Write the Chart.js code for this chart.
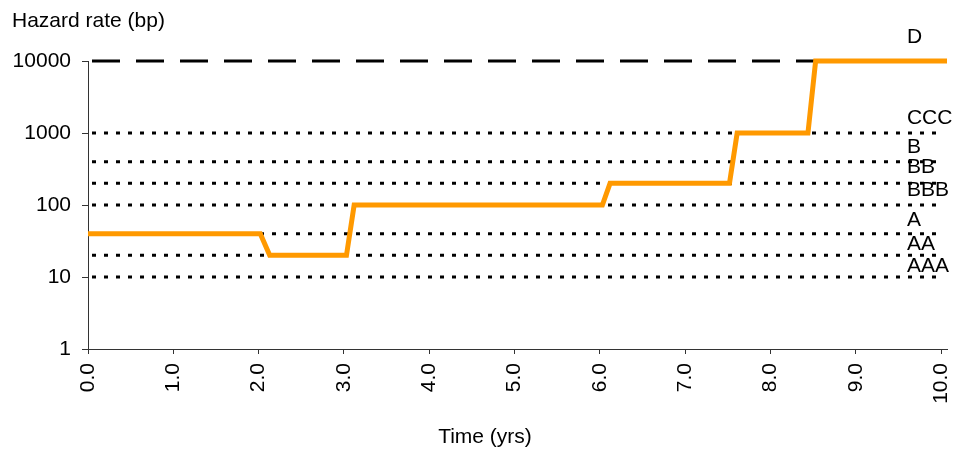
<!DOCTYPE html>
<html><head><meta charset="utf-8">
<script src="https://cdn.jsdelivr.net/npm/chart.js@4"></script>
<style>html,body{margin:0;padding:0;background:#fff;}#wrap{width:967px;height:455px;}</style>
</head><body><div id="wrap"><canvas id="c" width="967" height="455"></canvas></div>
<script>
// ---- data ----
const timeYears    = [0, 2.02, 2.13, 3.03, 3.12, 6.03, 6.12, 7.52, 7.61, 8.44, 8.53, 10.07];
const hazardRateBp = [40, 40, 20, 20, 100, 100, 200, 200, 1000, 1000, 10000, 10000];
const ratingLabels = ['D', 'CCC', 'B', 'BB', 'BBB', 'A', 'AA', 'AAA'];
const ratingLevels = [10000, 1000, 400, 200, 100, 40, 20, 10];
const ratingLineStart = 0;
const ratingLineEnd = 10.02;
const ratingLabelX = 9.6;
const xTickValues = [0, 1, 2, 3, 4, 5, 6, 7, 8, 9, 10];
const yTickValues = [1, 10, 100, 1000, 10000];
const yAxisTitle = 'Hazard rate (bp)';
const xAxisTitle = 'Time (yrs)';

// ---- styles ----
const FONT = "'Liberation Sans', Arial, sans-serif";
const FSIZE = 21;
const labelBaselineOffsets = [18, 9, 8.6, 10, 9, 8, 5, 5];

const datasets = [{
  label: 'Hazard rate',
  data: timeYears.map((t, i) => ({x: t, y: hazardRateBp[i]})),
  borderColor: '#FF9900',
  backgroundColor: '#FF9900',
  borderWidth: 5,
  pointRadius: 0,
  tension: 0,
  clip: 10,
  order: 0
}];
ratingLevels.forEach((lvl, i) => {
  const isDefault = ratingLabels[i] === 'D';
  datasets.push({
    label: ratingLabels[i],
    data: [{x: ratingLineStart, y: lvl}, {x: ratingLineEnd, y: lvl}],
    borderColor: '#000',
    borderWidth: 3,
    borderDash: isDefault ? [28, 16] : [4, 8],
    borderDashOffset: -4,
    borderCapStyle: 'butt',
    pointRadius: 0,
    clip: 10,
    order: 1
  });
});

const textPlugin = {
  id: 'textPlugin',
  afterDatasetsDraw(chart) {
    const ctx = chart.ctx;
    const xs = chart.scales.x, ys = chart.scales.y;
    ctx.save();
    ctx.fillStyle = '#000';
    ctx.font = FSIZE + 'px ' + FONT;
    ctx.textBaseline = 'alphabetic';
    ctx.textAlign = 'left';
    ratingLabels.forEach((lab, i) => {
      const x = xs.getPixelForValue(ratingLabelX);
      const y = ys.getPixelForValue(ratingLevels[i]) - labelBaselineOffsets[i];
      ctx.fillText(lab, x, y);
    });
    ctx.fillText(yAxisTitle, 12, 27);
    ctx.textAlign = 'center';
    ctx.fillText(xAxisTitle, 485, 443);
    ctx.restore();
  }
};

new Chart(document.getElementById('c'), {
  type: 'line',
  data: {datasets},
  plugins: [textPlugin],
  options: {
    responsive: false,
    devicePixelRatio: 1,
    animation: false,
    layout: {padding: {top: 61, right: 20, bottom: 0, left: 0}},
    plugins: {legend: {display: false}, tooltip: {enabled: false}, title: {display: false}},
    scales: {
      x: {
        type: 'linear', min: 0, max: 10.07,
        afterBuildTicks: s => { s.ticks = xTickValues.map(v => ({value: v})); },
        afterFit: s => { s.height = 106; s.paddingLeft = 0; s.paddingRight = 0; },
        ticks: {autoSkip: false, minRotation: 90, maxRotation: 90, padding: 9,
          color: '#000', font: {family: FONT, size: FSIZE},
          callback: v => Number(v).toFixed(1)},
        grid: {drawOnChartArea: false, tickLength: 5, color: '#333', tickWidth: 1},
        border: {color: '#333', width: 1}
      },
      y: {
        type: 'logarithmic', min: 1, max: 10000,
        afterBuildTicks: s => { s.ticks = yTickValues.map(v => ({value: v})); },
        afterFit: s => { s.width = 88; s.paddingTop = 0; s.paddingBottom = 0; },
        ticks: {autoSkip: false, padding: 11, color: '#000', font: {family: FONT, size: FSIZE},
          callback: v => String(v)},
        grid: {drawOnChartArea: false, tickLength: 6, color: '#333', tickWidth: 1},
        border: {color: '#333', width: 1}
      }
    }
  }
});
</script>
</body></html>
